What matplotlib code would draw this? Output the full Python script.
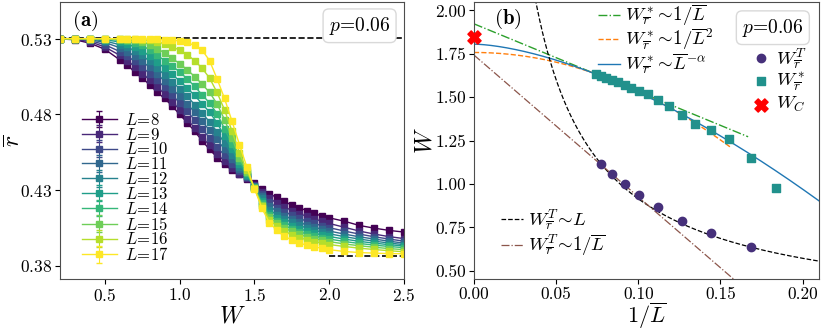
import numpy as np
import matplotlib
matplotlib.use("Agg")
import matplotlib.pyplot as plt

plt.rcParams["font.family"] = "serif"
plt.rcParams["font.serif"] = ["cmr10"]
plt.rcParams["mathtext.fontset"] = "cm"
plt.rcParams["axes.formatter.use_mathtext"] = True
plt.rcParams["axes.unicode_minus"] = False

# ---- panel (a): mean gap ratio vs disorder ----
W = [0.2, 0.3, 0.4, 0.5, 0.6, 0.65, 0.7, 0.75, 0.8, 0.85, 0.9, 0.95, 1.0, 1.05,
     1.1, 1.15, 1.2, 1.25, 1.3, 1.35, 1.4, 1.45, 1.5, 1.55, 1.6, 1.65, 1.7,
     1.75, 1.8, 1.85, 1.9, 1.95, 2.0, 2.1, 2.2, 2.3, 2.4, 2.5]
L_sizes = [8, 9, 10, 11, 12, 13, 14, 15, 16, 17]
r_L8 = [0.5298, 0.5293, 0.527, 0.523, 0.516, 0.5125, 0.508, 0.504, 0.4995, 0.4945,
        0.4905, 0.4855, 0.480, 0.4745, 0.469, 0.4625, 0.457, 0.4515, 0.447, 0.4432,
        0.4405, 0.4376, 0.4344, 0.4307, 0.4275, 0.4252, 0.4226, 0.420, 0.4183, 0.4165,
        0.4147, 0.4128, 0.4117, 0.4095, 0.4067, 0.4049, 0.4034, 0.4023]
r_L9 = [0.5299, 0.5296, 0.528, 0.5245, 0.519, 0.5155, 0.5115, 0.507, 0.5028, 0.498,
        0.4935, 0.4885, 0.483, 0.477, 0.471, 0.465, 0.4595, 0.454, 0.449, 0.4445,
        0.4405, 0.4378, 0.4335, 0.429, 0.4245, 0.4215, 0.419, 0.4165, 0.4145, 0.4127,
        0.411, 0.4095, 0.408, 0.4055, 0.403, 0.401, 0.3993, 0.398]
r_L10 = [0.530, 0.5298, 0.5288, 0.526, 0.5215, 0.5185, 0.515, 0.511, 0.507, 0.5025,
         0.498, 0.493, 0.4875, 0.482, 0.4765, 0.4705, 0.4645, 0.4585, 0.453, 0.4475,
         0.4425, 0.4385, 0.433, 0.4275, 0.422, 0.4185, 0.4158, 0.4135, 0.4113, 0.4095,
         0.408, 0.4065, 0.4052, 0.403, 0.401, 0.3992, 0.3977, 0.3963]
r_L11 = [0.530, 0.5299, 0.5293, 0.5275, 0.524, 0.5215, 0.5185, 0.515, 0.511, 0.5065,
         0.502, 0.497, 0.492, 0.487, 0.4815, 0.4755, 0.4695, 0.4635, 0.457, 0.4505,
         0.444, 0.439, 0.4325, 0.426, 0.4195, 0.416, 0.4132, 0.4108, 0.4087, 0.407,
         0.4055, 0.4042, 0.403, 0.401, 0.3992, 0.3977, 0.3963, 0.395]
r_L12 = [0.530, 0.530, 0.5297, 0.5285, 0.526, 0.5245, 0.522, 0.519, 0.515, 0.5105,
         0.506, 0.5015, 0.497, 0.492, 0.4865, 0.481, 0.475, 0.4685, 0.461, 0.4535,
         0.4455, 0.4395, 0.432, 0.4245, 0.417, 0.4137, 0.411, 0.4087, 0.4067, 0.405,
         0.4036, 0.4023, 0.4012, 0.3993, 0.3977, 0.3963, 0.3951, 0.394]
r_L13 = [0.530, 0.530, 0.5299, 0.5293, 0.5278, 0.5265, 0.5245, 0.522, 0.5185, 0.5145,
         0.5105, 0.5065, 0.502, 0.4975, 0.4925, 0.487, 0.4815, 0.4745, 0.4655, 0.457,
         0.447, 0.440, 0.4318, 0.423, 0.415, 0.4115, 0.4088, 0.4065, 0.4046, 0.403,
         0.4016, 0.4004, 0.3994, 0.3977, 0.3962, 0.395, 0.394, 0.3931]
r_L14 = [0.530, 0.530, 0.530, 0.5297, 0.529, 0.5282, 0.527, 0.5255, 0.5225, 0.519,
         0.5155, 0.512, 0.508, 0.5035, 0.4985, 0.493, 0.4875, 0.4805, 0.4705, 0.4605,
         0.449, 0.441, 0.4315, 0.4215, 0.4135, 0.4097, 0.4068, 0.4045, 0.4026, 0.401,
         0.3997, 0.3986, 0.3977, 0.3961, 0.3948, 0.3937, 0.3928, 0.392]
r_L15 = [0.530, 0.530, 0.530, 0.5299, 0.5296, 0.5292, 0.5288, 0.528, 0.526, 0.5235,
         0.5205, 0.517, 0.5135, 0.5095, 0.505, 0.500, 0.4945, 0.487, 0.4765, 0.4645,
         0.451, 0.442, 0.4313, 0.4205, 0.412, 0.408, 0.405, 0.4027, 0.4008, 0.3992,
         0.398, 0.3969, 0.396, 0.3945, 0.3933, 0.3923, 0.3914, 0.3907]
r_L16 = [0.530, 0.530, 0.530, 0.530, 0.5299, 0.5297, 0.5296, 0.5293, 0.5288, 0.528,
         0.5265, 0.5245, 0.5225, 0.5195, 0.5155, 0.5105, 0.504, 0.4945, 0.483, 0.469,
         0.4545, 0.443, 0.4312, 0.4195, 0.4105, 0.4062, 0.403, 0.4005, 0.3987, 0.3972,
         0.396, 0.395, 0.3941, 0.3928, 0.3917, 0.3908, 0.390, 0.3893]
r_L17 = [0.530, 0.530, 0.530, 0.530, 0.530, 0.530, 0.5299, 0.5298, 0.5297, 0.5295,
         0.5293, 0.529, 0.5285, 0.5275, 0.5255, 0.5225, 0.5155, 0.5035, 0.4905, 0.4755,
         0.460, 0.445, 0.431, 0.418, 0.4085, 0.4035, 0.3995, 0.397, 0.395, 0.3937,
         0.3926, 0.3916, 0.3907, 0.3895, 0.3888, 0.3884, 0.3881, 0.388]
r_curves = [r_L8, r_L9, r_L10, r_L11, r_L12, r_L13, r_L14, r_L15, r_L16, r_L17]
r_err = 0.0006
r_goe = 0.5307
r_poisson = 0.3863

# ---- panel (b): finite-size scaling of the transition points ----
invL_T = [0.0776, 0.0839, 0.0918, 0.1007, 0.1119, 0.1263, 0.1441, 0.1683]
W_T = [1.114, 1.060, 1.000, 0.938, 0.866, 0.788, 0.717, 0.637]
invL_star = [0.0745, 0.0772, 0.0802, 0.0839, 0.0877, 0.0918, 0.0958, 0.1007, 0.1058,
             0.1121, 0.1188, 0.1263, 0.1346, 0.1441, 0.1553, 0.1685, 0.1839]
W_star = [1.632, 1.624, 1.613, 1.600, 1.586, 1.571, 1.552, 1.537, 1.518,
          1.483, 1.447, 1.400, 1.348, 1.310, 1.259, 1.150, 0.977]
W_C = 1.847

# fit parameters
fit_star_lin = [1.923, 3.90]        # W = a - b x,      x in [0, 0.167]
fit_star_quad = [1.758, 22.4]       # W = a - b x^2,    x in [0, 0.156]
fit_star_pow = [1.806, 10.8, 1.59]  # W = a - b x^c
fit_T_lin = [1.743, 8.17]           # W = a - b x
fit_T_L = [0.229, 0.0686]           # W = a + b / x

LBL_STAR = [r"$W^*_{\overline{r}}\!\sim\! 1/\overline{L}$",
            r"$W^*_{\overline{r}}\!\sim\! 1/\overline{L}^2$",
            r"$W^*_{\overline{r}}\!\sim\! \overline{L}^{-\alpha}$"]
LBL_T = [r"$W^T_{\overline{r}}\!\sim\! L$",
         r"$W^T_{\overline{r}}\!\sim\! 1/\overline{L}$"]
LBL_PTS = [r"$W^T_{\overline{r}}$", r"$W^*_{\overline{r}}$", r"$W_C$"]

C_T = "#46307a"
C_S = "#21918c"


def line_key(ax, x0, x1, y, text, **kw):
    # hand-placed legend row (mathtext rows vary in height in ax.legend)
    ax.plot([x0, x1], [y, y], transform=ax.transAxes, clip_on=False, **kw)
    ax.text(x1 + 0.015, y, text, transform=ax.transAxes, fontsize=13.5,
            va="center", ha="left")


def marker_key(ax, x, y, text, **kw):
    ax.scatter([x], [y], transform=ax.transAxes, clip_on=False, **kw)
    ax.text(x + 0.043, y, text, transform=ax.transAxes, fontsize=13.5,
            va="center", ha="left")


fig = plt.figure(figsize=(8.22, 3.31), dpi=100)
ax1 = fig.add_axes([0.073, 0.157, 0.4185, 0.836])
ax2 = fig.add_axes([0.5766, 0.157, 0.4198, 0.836])

colors = plt.cm.viridis(np.linspace(0, 1, len(L_sizes)))
for L, r, c in zip(L_sizes, r_curves, colors):
    ax1.errorbar(W, r, yerr=r_err, color=c, marker="s", ms=3.8, lw=1.0,
                 capsize=2, elinewidth=0.8, label=f"$L\\!=\\!{L}$")
ax1.plot([0.2, 2.5], [r_goe, r_goe], "k--", lw=1.2)
ax1.plot([2.0, 2.5], [r_poisson, r_poisson], "k--", lw=1.2)
ax1.set_xlim(0.2, 2.5)
ax1.set_ylim(0.3713, 0.554)
ax1.set_xticks([0.5, 1.0, 1.5, 2.0, 2.5])
ax1.set_yticks([0.38, 0.43, 0.48, 0.53])
ax1.set_xlabel("$W$", fontsize=17)
ax1.set_ylabel(r"$\overline{r}$", fontsize=17)
ax1.xaxis.set_label_coords(0.5, -0.095)
ax1.yaxis.set_label_coords(-0.102, 0.5)
ax1.text(0.035, 0.975, r"$(\mathbf{a})$", transform=ax1.transAxes, fontsize=15,
         va="top", ha="left")
ax1.text(0.96, 0.955, "$p$=0.06", transform=ax1.transAxes, fontsize=14,
         va="top", ha="right",
         bbox=dict(boxstyle="round,pad=0.3", fc="white", ec="0.85"))
ax1.legend(loc="lower left", bbox_to_anchor=(0.03, 0.015), frameon=False,
           fontsize=12, labelspacing=-0.07, handlelength=2.1, handletextpad=0.5,
           borderpad=0.2)

# panel (b)
x = np.linspace(0, 0.21, 400)
xl = x[x <= 0.167]
ax2.plot(xl, fit_star_lin[0] - fit_star_lin[1] * xl, color="C2", ls="-.", lw=1)
xq = x[x <= 0.156]
ax2.plot(xq, fit_star_quad[0] - fit_star_quad[1] * xq ** 2, color="C1", ls="--", lw=1)
ax2.plot(x, fit_star_pow[0] - fit_star_pow[1] * x ** fit_star_pow[2], color="C0", lw=1)
xs = x[x > 0.03]
ax2.plot(xs, fit_T_L[0] + fit_T_L[1] / xs, "k--", lw=0.9)
ax2.plot(x, fit_T_lin[0] - fit_T_lin[1] * x, color="C5", ls="-.", lw=0.9)
ax2.scatter(invL_T, W_T, marker="o", s=36, color=C_T, zorder=5)
ax2.scatter(invL_star, W_star, marker="s", s=36, color=C_S, zorder=5)
ax2.scatter([0.0], [W_C], marker="X", s=90, color="red", zorder=6, clip_on=False)
ax2.set_xlim(0, 0.21)
ax2.set_ylim(0.4525, 2.047)
ax2.set_xticks([0.0, 0.05, 0.10, 0.15, 0.20])
ax2.set_xticklabels(["0.00", "0.05", "0.10", "0.15", "0.20"])
ax2.set_yticks([0.5, 0.75, 1.0, 1.25, 1.5, 1.75, 2.0])
ax2.set_yticklabels(["0.50", "0.75", "1.00", "1.25", "1.50", "1.75", "2.00"])
ax2.set_xlabel(r"$1/\overline{L}$", fontsize=16)
ax2.set_ylabel("$W$", fontsize=17)
ax2.xaxis.set_label_coords(0.5, -0.078)
ax2.yaxis.set_label_coords(-0.108, 0.5)
ax2.text(0.058, 0.985, r"$(\mathbf{b})$", transform=ax2.transAxes, fontsize=15,
         va="top", ha="left")
ax2.text(0.955, 0.948, "$p$=0.06", transform=ax2.transAxes, fontsize=14,
         va="top", ha="right",
         bbox=dict(boxstyle="round,pad=0.3", fc="white", ec="0.85"))

# legends of panel (b)
line_key(ax2, 0.358, 0.422, 0.954, LBL_STAR[0], color="C2", ls="-.", lw=1)
line_key(ax2, 0.358, 0.422, 0.866, LBL_STAR[1], color="C1", ls="--", lw=1)
line_key(ax2, 0.358, 0.422, 0.777, LBL_STAR[2], color="C0", lw=1)
marker_key(ax2, 0.833, 0.798, LBL_PTS[0], marker="o", s=36, color=C_T)
marker_key(ax2, 0.833, 0.716, LBL_PTS[1], marker="s", s=36, color=C_S)
marker_key(ax2, 0.833, 0.630, LBL_PTS[2], marker="X", s=90, color="red")
line_key(ax2, 0.078, 0.142, 0.216, LBL_T[0], color="k", ls="--", lw=0.9)
line_key(ax2, 0.078, 0.142, 0.122, LBL_T[1], color="C5", ls="-.", lw=0.9)

for ax in (ax1, ax2):
    ax.tick_params(labelsize=12.5, direction="out", length=3.5, pad=2)
    for s in ax.spines.values():
        s.set_color("0.3")

fig.savefig("out.png", dpi=100)
